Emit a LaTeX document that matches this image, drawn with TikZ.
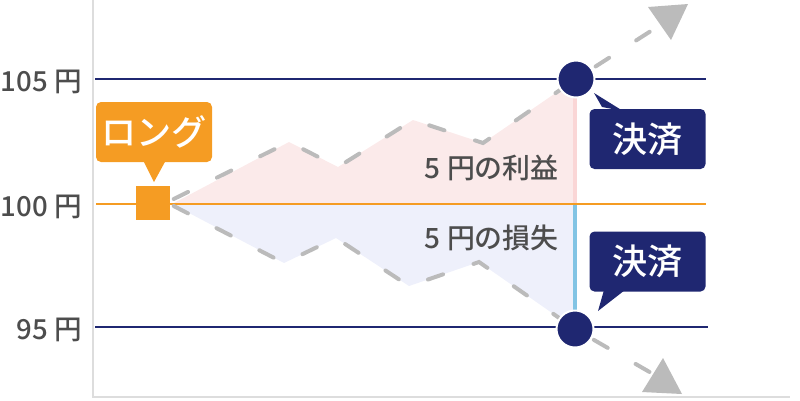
\documentclass[tikz,border=0pt]{standalone}
\usepackage{fontspec}
\setmainfont{Noto Sans CJK JP}
\newfontfamily\medfont{Noto Sans CJK JP Medium}
\definecolor{navy}{HTML}{1F2771}
\definecolor{long}{HTML}{F59C23}
\definecolor{gain}{HTML}{FBEAEA}
\definecolor{gainbar}{HTML}{FAD6D6}
\definecolor{loss}{HTML}{EEF0FB}
\definecolor{lossbar}{HTML}{82C4E4}
\definecolor{axisgray}{HTML}{DDDDDD}
\definecolor{pathgray}{HTML}{BBBBBB}
\definecolor{labelgray}{HTML}{4D4D4D}
\tikzset{
    pricelabel/.style={anchor=east,inner sep=0pt,text=labelgray,font=\medfont\fontsize{7.85}{9}\selectfont},
    resultlabel/.style={anchor=east,inner sep=0pt,text=labelgray,font=\medfont\fontsize{7.95}{9}\selectfont},
    pricepath/.style={pathgray,line width=0.04cm,line cap=round,dash pattern=on 0.16cm off 0.322cm},
    balloon/.style={rounded corners=0.05cm,inner sep=0pt,minimum width=1.16cm,minimum height=0.6cm,text=white,font=\medfont\fontsize{10}{10}\selectfont},
    exitdot/.style={circle,fill=navy,draw=white,line width=0.02cm,minimum size=0.37cm,inner sep=0pt}
}
\begin{document}
\begin{tikzpicture}
        \useasboundingbox (0,0) rectangle (8,4);
        % profit and loss areas
        \fill[gain] (1.72,1.96) -- (2.89,2.58) -- (3.38,2.33) -- (4.13,2.80) -- (4.83,2.57) -- (5.76,3.21) -- (5.76,1.96) -- cycle;
        \fill[loss] (1.72,1.96) -- (2.84,1.37) -- (3.36,1.62) -- (4.09,1.14) -- (4.79,1.38) -- (5.75,0.71) -- (5.75,1.96) -- cycle;
        \draw[gainbar,line width=0.04cm] (5.75,3.05) -- (5.75,1.96);
        \draw[lossbar,line width=0.04cm] (5.75,1.96) -- (5.75,0.88);
        % axes
        \draw[axisgray,line width=0.02cm] (0.93,4) -- (0.93,0.03) -- (7.90,0.03);
        % price levels
        \draw[navy,line width=0.02cm] (0.95,3.21) -- (7.06,3.21);
        \draw[long,line width=0.02cm] (0.96,1.96) -- (7.06,1.96);
        \draw[navy,line width=0.02cm] (0.95,0.73) -- (7.08,0.73);
        \node[pricelabel] (p105) at (0.825,3.185) {105 円};
        \node[pricelabel] (p100) at (0.825,1.935) {100 円};
        \node[pricelabel] (p95) at (0.825,0.705) {95 円};
        % price paths
        \node[fill=long,minimum size=0.34cm,inner sep=0pt] (entry) at (1.53,1.97) {};
        \coordinate (uptip) at (6.68,3.80);
        \coordinate (downtip) at (6.60,0.22);
        \draw[pricepath] (entry.east) ++(0.03,0.04) -- (2.89,2.58) -- (3.38,2.33) -- (4.13,2.80) -- (4.83,2.57) -- (5.76,3.21) -- (uptip);
        \draw[pricepath] (entry.east) ++(0.03,-0.03) -- (2.84,1.37) -- (3.36,1.62) -- (4.09,1.14) -- (4.79,1.38) -- (5.75,0.71) -- (downtip);
        \fill[pathgray] (6.48,3.93) -- (6.88,3.96) -- (6.71,3.60) -- cycle;
        \fill[pathgray] (6.63,0.42) -- (6.42,0.08) -- (6.82,0.06) -- cycle;
        \node[exitdot] (win) at (5.76,3.21) {};
        \node[exitdot] (lose) at (5.75,0.71) {};
        \node[resultlabel] (gaintext) at (5.595,2.32) {5 円の利益};
        \node[resultlabel] (losstext) at (5.595,1.62) {5 円の損失};
        % balloons
        \node[balloon,fill=long] (buy) at (1.54,2.68) {ロング};
        \fill[long] (1.43,2.40) -- (1.54,2.18) -- (1.66,2.40) -- cycle;
        \node[balloon,fill=navy] (exitup) at (6.475,2.61) {\raisebox{-0.02cm}{決済}};
        \fill[navy] (6.02,2.93) -- (5.94,3.07) -- (6.23,2.89) -- cycle;
        \node[balloon,fill=navy] (exitdown) at (6.475,1.385) {\raisebox{-0.01cm}{決済}};
        \fill[navy] (6.04,1.10) -- (5.98,0.89) -- (6.25,1.10) -- cycle;
    \end{tikzpicture}
\end{document}
